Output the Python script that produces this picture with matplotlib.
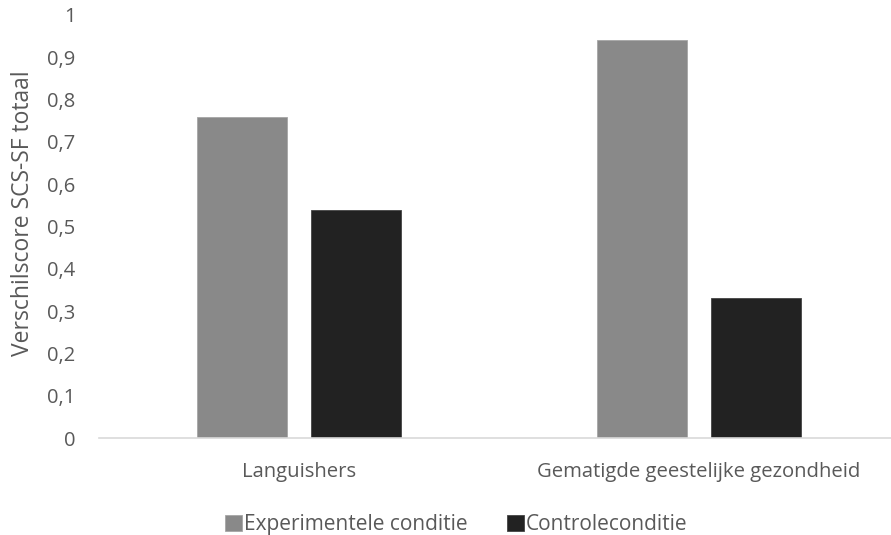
import matplotlib as mpl
mpl.use('Agg')
import matplotlib.pyplot as plt
import numpy as np

categories = ['Languishers', 'Gematigde geestelijke gezondheid']
series_names = ['Experimentele conditie', 'Controleconditie']
experimenteel = [0.76, 0.94]
controle = [0.54, 0.33]
yticks = [0, 0.1, 0.2, 0.3, 0.4, 0.5, 0.6, 0.7, 0.8, 0.9, 1]

plt.rcParams['font.family'] = ['Open Sans', 'DejaVu Sans']
text_color = '#595959'

fig = plt.figure(figsize=(8.91, 5.35), dpi=100)
# axis runs off the right edge in the original, like a cropped Excel chart
ax = fig.add_axes([99 / 891, 97 / 535, 800 / 891, 423 / 535])

x = np.arange(len(categories))
width = 0.225
offset = 0.1425
b1 = ax.bar(x - offset, experimenteel, width, color='#898989',
            edgecolor='#a6a6a6', linewidth=0.6, label=series_names[0])
b2 = ax.bar(x + offset, controle, width, color='#222222',
            edgecolor='#444444', linewidth=0.6, label=series_names[1])

ax.set_xlim(-0.5, 1.5)
ax.set_ylim(0, 1)
ax.set_yticks(yticks)
ax.set_yticklabels([('%g' % v).replace('.', ',') for v in yticks])
ax.set_xticks(x)
ax.set_xticklabels(categories)

for s in ['top', 'right', 'left']:
    ax.spines[s].set_visible(False)
ax.spines['bottom'].set_color('#d9d9d9')
ax.spines['bottom'].set_linewidth(1.2)
ax.tick_params(axis='both', length=0, colors=text_color)
ax.tick_params(axis='y', labelsize=14.5, pad=17)
ax.tick_params(axis='x', labelsize=14.6, pad=17.5)

ax.set_ylabel('Verschilscore SCS-SF totaal', fontsize=16.5, color=text_color,
              va='center')
ax.yaxis.set_label_coords(-0.095, 0.531)

fig.legend(handles=[b1, b2], loc='center',
           bbox_to_anchor=(456.5 / 891, 1 - 524.5 / 535),
           ncol=2, frameon=False, fontsize=15, handlelength=0.81,
           handleheight=0.81, handletextpad=0.1, columnspacing=1.87,
           labelcolor=text_color)

fig.savefig('out.png', dpi=100)
